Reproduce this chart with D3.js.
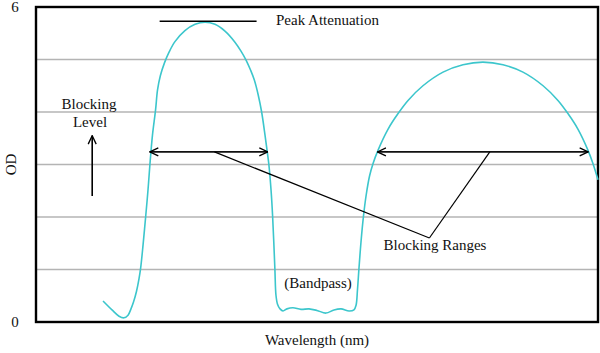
<!DOCTYPE html>
<html lang="en">
<head>
  <meta charset="UTF-8">
  <title>Filter OD curve</title>
  <script src="https://d3js.org/d3.v7.min.js"></script>
  <style>
    body { margin: 0; background: #fff; }
    text { font-family: "Liberation Serif", "DejaVu Serif", serif; font-size: 15px; fill: #111; }
  </style>
</head>
<body>
  <svg width="600" height="353"></svg>

  <script>
    // Transmission curve (wavelength in nm, optical density)
    const wavelength = [
      447.7, 454.1, 459.1, 462.6, 465.5, 467.6, 469.4, 471.5, 473.3, 474.5, 476.2, 478.1, 479.7, 481.1, 482.9, 485.1, 486.5,
      488.5, 491.5, 494.7, 498.9, 506.0, 513.2, 520.3, 527.4, 534.5, 541.6, 545.9, 549.5, 552.7, 555.4, 558.2, 560.6,
      563.0, 564.6, 565.7, 567.3, 568.4, 570.0, 570.8, 571.9, 573.7, 575.8,
      578.6, 582.9, 588.6, 594.3, 600.0, 606.4, 612.1, 617.1, 622.8, 626.3,
      627.8, 628.8, 629.9, 631.3, 633.1, 634.9, 637.4, 639.9, 643.4, 650.5, 657.7, 664.8, 675.4, 689.7, 703.9, 718.1,
      732.4, 746.6, 760.9, 771.5, 778.6, 785.8, 792.9, 796.4, 800];
    const od = [
      0.40, 0.23, 0.11, 0.08, 0.13, 0.25, 0.38, 0.58, 0.82, 1.03, 1.47, 2.02, 2.51, 3.01, 3.56, 4.04, 4.42,
      4.69, 4.94, 5.14, 5.34, 5.55, 5.67, 5.71, 5.67, 5.54, 5.33, 5.16, 4.99, 4.80, 4.61, 4.32, 4.00,
      3.56, 3.24, 3.01, 2.51, 2.02, 1.03, 0.51, 0.34, 0.25, 0.21,
      0.25, 0.27, 0.24, 0.25, 0.22, 0.17, 0.23, 0.25, 0.21, 0.23,
      0.32, 0.61, 1.03, 1.52, 2.02, 2.40, 2.78, 3.02, 3.27, 3.67, 3.97, 4.22, 4.50, 4.76, 4.90, 4.95,
      4.90, 4.76, 4.50, 4.22, 3.97, 3.67, 3.27, 3.02, 2.71];

    const yTickLabels = ["0", "6"];
    const gridLevels = [1, 2, 3, 4, 5];

    // annotations (data coordinates)
    const peakLine = { from: 488, to: 557, od: 5.73 };
    const blockingRanges = [[481, 565], [643, 793]];
    const blockingLevel = 3.24;
    const leaderTarget = { w: 680, od: 1.6 };
    const leaderStarts = [527, 723];

    const svg = d3.select("svg");
    const x = d3.scaleLinear().domain([400, 800]).range([36, 598]);
    const y = d3.scaleLinear().domain([0, 6]).range([322, 7]);

    // grid lines
    svg.selectAll(".grid")
      .data(gridLevels)
      .join("line")
      .attr("x1", 37).attr("x2", 598)
      .attr("y1", d => y(d)).attr("y2", d => y(d))
      .attr("stroke", "#b4b4b4")
      .attr("stroke-width", 1.4);

    // frame
    svg.append("rect")
      .attr("x", 36).attr("y", 7)
      .attr("width", 562).attr("height", 315)
      .attr("fill", "none")
      .attr("stroke", "#000")
      .attr("stroke-width", 2.4);

    // y labels
    svg.selectAll(".ylab")
      .data(yTickLabels)
      .join("text")
      .attr("x", 15)
      .attr("y", d => y(+d) + 5)
      .attr("text-anchor", "middle")
      .text(d => d);

    svg.append("text")
      .attr("transform", `translate(16,${y(3)}) rotate(-90)`)
      .attr("text-anchor", "middle")
      .text("OD");

    svg.append("text")
      .attr("x", 317).attr("y", 345)
      .attr("text-anchor", "middle")
      .text("Wavelength (nm)");

    // curve
    const pts = wavelength.map((w, i) => [w, od[i]]);
    svg.append("path")
      .datum(pts)
      .attr("fill", "none")
      .attr("stroke", "#3cc6cc")
      .attr("stroke-width", 1.6)
      .attr("d", d3.line()
        .x(d => x(d[0]))
        .y(d => y(d[1]))
        .curve(d3.curveCatmullRom.alpha(0.5)));

    // peak attenuation
    svg.append("line")
      .attr("x1", x(peakLine.from)).attr("x2", x(peakLine.to))
      .attr("y1", y(peakLine.od)).attr("y2", y(peakLine.od))
      .attr("stroke", "#000").attr("stroke-width", 1.6);
    svg.append("text")
      .attr("x", 276).attr("y", y(peakLine.od) + 4)
      .text("Peak Attenuation");

    // arrow markers
    const defs = svg.append("defs");
    defs.append("marker")
      .attr("id", "chev")
      .attr("viewBox", "0 0 10 10")
      .attr("refX", 9.5).attr("refY", 5)
      .attr("markerWidth", 10).attr("markerHeight", 10)
      .attr("markerUnits", "userSpaceOnUse")
      .attr("orient", "auto-start-reverse")
      .append("path")
      .attr("d", "M1,1 L9.5,5 L1,9")
      .attr("fill", "none")
      .attr("stroke", "#000")
      .attr("stroke-width", 1.3);

    svg.selectAll(".range")
      .data(blockingRanges)
      .join("line")
      .attr("x1", d => x(d[0])).attr("x2", d => x(d[1]))
      .attr("y1", y(blockingLevel)).attr("y2", y(blockingLevel))
      .attr("stroke", "#111").attr("stroke-width", 1.8)
      .attr("marker-start", "url(#chev)")
      .attr("marker-end", "url(#chev)");

    svg.selectAll(".leader")
      .data(leaderStarts)
      .join("line")
      .attr("x1", d => x(d)).attr("y1", y(blockingLevel))
      .attr("x2", x(leaderTarget.w)).attr("y2", y(leaderTarget.od))
      .attr("stroke", "#000").attr("stroke-width", 1.2);

    svg.append("text")
      .attr("x", 435).attr("y", 250)
      .attr("text-anchor", "middle")
      .text("Blocking Ranges");

    svg.append("text")
      .attr("x", 318).attr("y", 288)
      .attr("text-anchor", "middle")
      .text("(Bandpass)");

    // blocking level label + arrow
    svg.append("text").attr("x", 89).attr("y", 109).attr("text-anchor", "middle").text("Blocking");
    svg.append("text").attr("x", 90).attr("y", 127).attr("text-anchor", "middle").text("Level");
    svg.append("line")
      .attr("x1", x(440)).attr("x2", x(440))
      .attr("y1", y(2.4)).attr("y2", y(3.55))
      .attr("stroke", "#000").attr("stroke-width", 1.6)
      .attr("marker-end", "url(#chev)");
  </script>
</body>
</html>
